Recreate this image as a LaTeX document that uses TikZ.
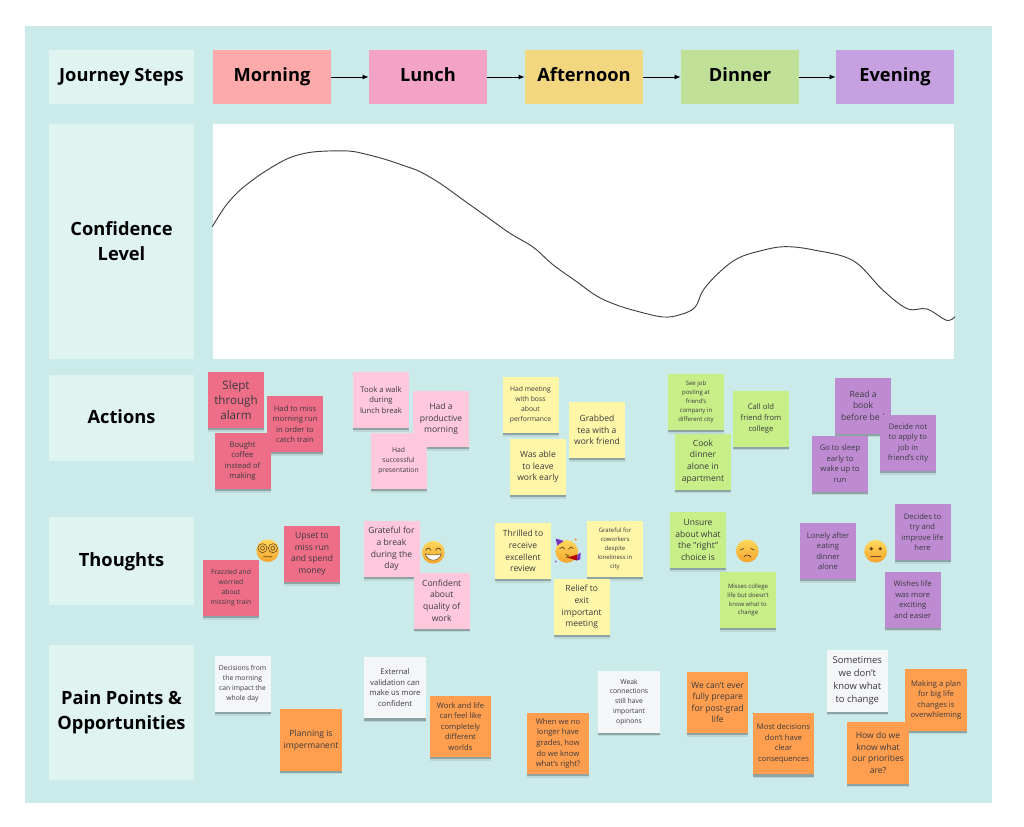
\documentclass[tikz,border=0pt]{standalone}
\usepackage{fontspec}
\setmainfont{Open Sans}
\usetikzlibrary{arrows.meta,shadows}
\definecolor{boardbg}{HTML}{CBEAEA}
\definecolor{panelbg}{HTML}{DFF3F1}
\definecolor{inktext}{HTML}{3A3A3E}
\definecolor{noteRed}{HTML}{EE6E88}
\definecolor{notePink}{HTML}{FFC8DC}
\definecolor{noteYellow}{HTML}{FFF6A8}
\definecolor{noteGreen}{HTML}{C8EE88}
\definecolor{notePurple}{HTML}{BE8BD2}
\definecolor{noteWhite}{HTML}{F5F6F8}
\definecolor{noteOrange}{HTML}{FF9E4E}
\definecolor{faceTop}{HTML}{FFD85C}
\definecolor{faceBot}{HTML}{F4A42C}
\definecolor{faceLine}{HTML}{6B4A1E}
\tikzset{%
  >={Latex[width=1.3mm,length=1.6mm]},
  % Specifications for style of nodes:
        base/.style = {rectangle, inner sep=0pt, align=center},
       panel/.style = {base, fill=panelbg, minimum width=108.75pt,
                       font=\fontsize{13.7}{18.75}\selectfont\bfseries},
   panelline/.style = {panel, text height=11pt, text depth=3.2pt},
    stepcard/.style = {base, minimum width=88.5pt, minimum height=40.5pt,
                       text height=10.3pt, text depth=3.5pt,
                       font=\fontsize{13.7}{18.75}\selectfont\bfseries},
        note/.style = {base, minimum width=42pt, minimum height=42pt,
                       text=inktext,
                       general shadow={fill=black, opacity=.08, shadow yshift=-2.8pt, xscale=.88},
                       general shadow={fill=black, opacity=.24, shadow yshift=-1.7pt, xscale=.78}},
     bignote/.style = {note, minimum width=46pt, minimum height=46pt},
     rednote/.style = {note, fill=noteRed},
    pinknote/.style = {note, fill=notePink},
  yellownote/.style = {note, fill=noteYellow},
   greennote/.style = {note, fill=noteGreen},
  purplenote/.style = {note, fill=notePurple},
   whitenote/.style = {bignote, fill=noteWhite},
  orangenote/.style = {bignote, fill=noteOrange},
        txxs/.style = {font=\fontsize{4.5}{6.7}\selectfont},
         txs/.style = {font=\fontsize{5.1}{7.4}\selectfont},
         txm/.style = {font=\fontsize{5.75}{7.9}\selectfont},
         txl/.style = {font=\fontsize{6.4}{8.7}\selectfont},
        txxl/.style = {font=\fontsize{8.7}{11.5}\selectfont},
       txbig/.style = {font=\fontsize{7.1}{9.75}\selectfont},
        face/.style = {circle, minimum size=17pt, inner sep=0pt,
                       top color=faceTop, bottom color=faceBot},
     faceink/.style = {draw=faceLine, line width=.6pt, line cap=round},
}
\begin{document}
\begin{tikzpicture}[x=0.75pt, y=-0.75pt]
  % board and margins
  \useasboundingbox (0,0) rectangle (1024,827);
  \fill[white] (0,0) rectangle (1024,827);
  \fill[boardbg] (25,26) rectangle (992,803);

  % Left column
  \node (rowSteps)   [panel, minimum height=40.5pt, text height=10.3pt, text depth=3.5pt] at (121.5,77) {Journey Steps};
  \node (rowConf)    [panel, minimum height=176.5pt] at (121.5,241.5) {Confidence\\Level};
  \node (rowActions) [panelline, minimum height=64.5pt]  at (121.5,418)  {Actions};
  \node (rowThought) [panelline, minimum height=66pt]    at (121.5,561)  {Thoughts};
  \node (rowPain)    [panel, minimum height=101pt]   at (121.5,712.5) {Pain Points \&\\Opportunities};

  % Journey steps
  \node (morning)   [stepcard, fill={rgb,255:red,255;green,170;blue,170}] at (272,77) {Morning};
  \node (lunch)     [stepcard, fill={rgb,255:red,243;green,163;blue,198}] at (428,77) {Lunch};
  \node (afternoon) [stepcard, fill={rgb,255:red,243;green,215;blue,128}] at (584,77) {Afternoon};
  \node (dinner)    [stepcard, fill={rgb,255:red,192;green,224;blue,152}] at (740,77) {Dinner};
  \node (evening)   [stepcard, fill={rgb,255:red,198;green,160;blue,224}] at (895,77) {Evening};
  \draw[->, line width=.7pt] (morning) -- (lunch);
  \draw[->, line width=.7pt] (lunch) -- (afternoon);
  \draw[->, line width=.7pt] (afternoon) -- (dinner);
  \draw[->, line width=.7pt] (dinner) -- (evening);

  % Confidence chart
  \node (chart) [base, fill=white, minimum width=555.75pt, minimum height=176.5pt] at (583.5,241.5) {};
  \draw[black!75, line width=.7pt] plot[smooth, tension=.6] coordinates {
    (212.3,226.7) (225,206.7) (238.3,191.7) (255,178.3) (271.7,167.3) (288.3,158.3)
    (305,153.3) (321.7,151.3) (348.3,151) (365,154) (385,159.3) (405,166)
    (420,171.7) (440,183.3) (463.3,200) (486.7,216.7) (510,233.3) (533.3,247.3)
    (553.3,265) (576.7,281.7) (596.7,296) (616.7,305) (640,312) (663.3,317)
    (680,314.7) (695,307.3) (703.3,290) (720,271.7) (737.8,258.3) (760,251)
    (784.5,246.7) (814,250) (853.2,260.7) (882.7,290)
    (907.3,308.7) (926.9,309) (946.6,320.3) (954.9,316.7)};

  % Actions
  \node (aSlept)   [rednote, txxl] at (236,400)   {Slept\\through\\alarm};
  \node (aMiss)    [rednote, txm]  at (295,424)   {Had to miss\\morning run\\in order to\\catch train};
  \node (aCoffee)  [rednote, txm]  at (242.5,461) {Bought\\coffee\\instead of\\making};
  \node (aWalk)    [pinknote, txm] at (381,400)   {Took a walk\\during\\lunch break};
  \node (aProd)    [pinknote, txl] at (441,419)   {Had a\\productive\\morning};
  \node (aPres)    [pinknote, txs] at (398.5,461) {Had\\successful\\presentation};
  \node (aBoss)    [yellownote, txs] at (530.5,405) {Had meeting\\with boss\\about\\performance};
  \node (aTea)     [yellownote, txl] at (597,430)   {Grabbed\\tea with a\\work friend};
  \node (aLeave)   [yellownote, txl] at (538,467)   {Was able\\to leave\\work early};
  \node (aPosting) [greennote, txxs] at (696,402)   {See job\\posting at\\friend's\\company in\\different city};
  \node (aCall)    [greennote, txm]  at (761,418.5) {Call old\\friend from\\college};
  \node (aCook)    [greennote, txl]  at (703,461.5) {Cook\\dinner\\alone in\\apartment};
  \node (aBook)    [purplenote, txl] at (863,405.5) {Read a\\book\\before bed};
  \node (aApply)   [purplenote, txm] at (908,443)   {Decide not\\to apply to\\job in\\friend's city};
  \node (aSleep)   [purplenote, txm] at (840,463.7) {Go to sleep\\early to\\wake up to\\run};

  % Thoughts
  \node (tFrazzle) [rednote, txs]  at (231,588)   {Frazzled and\\worried\\about\\missing train};
  \node (tUpset)   [rednote, txl]  at (312,554)   {Upset to\\miss run\\and spend\\money};
  \node (tBreak)   [pinknote, txl] at (391.5,549) {Grateful for\\a break\\during the\\day};
  \node (tWork)    [pinknote, txl] at (441.7,600.5) {Confident\\about\\quality of\\work};
  \node (tReview)  [yellownote, txl] at (523,551) {Thrilled to\\receive\\excellent\\review};
  \node (tCowork)  [yellownote, txxs] at (615,549) {Grateful for\\coworkers\\despite\\loneliness in\\city};
  \node (tRelief)  [yellownote, txl] at (581.7,607) {Relief to\\exit\\important\\meeting};
  \node (tUnsure)  [greennote, txl] at (698,540)  {Unsure\\about what\\the "right"\\choice is};
  \node (tCollege) [greennote, txxs] at (748,600) {Misses college\\life but doesn't\\know what to\\change};
  \node (tLonely)  [purplenote, txm] at (828,551) {Lonely after\\eating\\dinner\\alone};
  \node (tImprove) [purplenote, txm] at (922.5,532) {Decides to\\try and\\improve life\\here};
  \node (tExcite)  [purplenote, txm] at (912.7,599.7) {Wishes life\\was more\\exciting\\and easier};

  % Pain points
  \node (pDecide)  [whitenote, minimum width=42pt, minimum height=42pt, txs] at (242.5,684) {Decisions from\\the morning\\can impact the\\whole day};
  \node (pPlan)    [orangenote, txl]  at (311,740)   {Planning is\\impermanent};
  \node (pValid)   [whitenote, txm]   at (395,687.7) {External\\validation can\\make us more\\confident};
  \node (pWorlds)  [orangenote, txm]  at (460.5,726.5) {Work and life\\can feel like\\completely\\different\\worlds};
  \node (pGrades)  [orangenote, txm]  at (558,743.5) {When we no\\longer have\\grades, how\\do we know\\what's right?};
  \node (pWeak)    [whitenote, txs]   at (629,702)   {Weak\\connections\\still have\\important\\opinons};
  \node (pPrepare) [orangenote, txl]  at (717.7,702.5) {We can't ever\\fully prepare\\for post-grad\\life};
  \node (pClear)   [orangenote, txm]  at (783.5,743.7) {Most decisions\\don't have\\clear\\consequences};
  \node (pChange)  [whitenote, txbig] at (857.3,681) {Sometimes\\we don't\\know what\\to change};
  \node (pBig)     [orangenote, txm]  at (936,700)   {Making a plan\\for big life\\changes is\\overwhleming};
  \node (pPrior)   [orangenote, txl]  at (878,753)   {How do we\\know what\\our priorities\\are?};

  % Emoji faces
  \node (faceDizzy) [face] at (267.7,550.7) {};
  \node (faceGrin)  [face] at (433.3,552.3) {};
  \node (faceParty) [face] at (566.7,551.5) {};
  \node (faceSad)   [face] at (747.3,551) {};
  \node (faceFlat)  [face] at (875.7,551.3) {};

  \begin{scope}[shift={(faceDizzy)}, faceink]
    \foreach \sx in {-5.2,5.2} {
      \draw[line width=.45pt] (\sx,-2.5) circle[radius=3.4pt];
      \draw[line width=.45pt] (\sx,-2.5) circle[radius=1.5pt];
    }
    \draw (-4,6) .. controls (-1,4.5) and (1,7.5) .. (4,6);
  \end{scope}
  \begin{scope}[shift={(faceGrin)}, faceink]
    \draw (-7.5,-2) .. controls (-6,-5) and (-4,-5) .. (-2.5,-2);
    \draw (2.5,-2) .. controls (4,-5) and (6,-5) .. (7.5,-2);
    \fill[white, draw=faceLine, line width=.4pt] (-8,1.5) .. controls (-3,3) and (3,3) .. (8,1.5)
      .. controls (6,10) and (-6,10) .. (-8,1.5) -- cycle;
  \end{scope}
  \begin{scope}[shift={(faceParty)}, faceink]
    \draw (-7,-3) .. controls (-5,-5) and (-3,-5) .. (-2,-2.5);
    \draw (2,-2.5) .. controls (3.5,-5) and (5.5,-5) .. (6.5,-3);
    \draw (-1,3) -- (2,4.5) -- (0,6);
    \fill[blue!55!purple!80] (-11,-13) -- (-3,-10.5) -- (-9.5,-6) -- cycle;
    \fill[red!70!black] (1,6) -- (11,3) -- (10,9) -- cycle;
    \fill[blue!55!purple!80] (11,3) -- (14,1) -- (13.5,8) -- (10,9) -- cycle;
    \fill[blue!55!purple!60] (-11,10) circle[radius=.9pt];
    \fill[orange] (9,-12) circle[radius=.9pt];
  \end{scope}
  \begin{scope}[shift={(faceSad)}, faceink]
    \draw (-7,-1) -- (-3.5,-2.5);
    \draw (7,-1) -- (3.5,-2.5);
    \draw (-3.5,6) .. controls (-2,3.5) and (2,3.5) .. (3.5,6);
  \end{scope}
  \begin{scope}[shift={(faceFlat)}, faceink]
    \fill[faceLine] (-4.5,-2.5) circle[radius=1.4pt];
    \fill[faceLine] (4.5,-2.5) circle[radius=1.4pt];
    \draw (-5,5) -- (5,5);
  \end{scope}
\end{tikzpicture}
\end{document}
